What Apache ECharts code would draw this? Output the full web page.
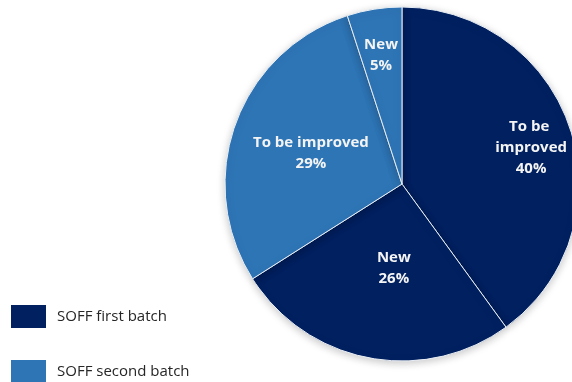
<!DOCTYPE html>
<html>
<head>
<meta charset="utf-8">
<style>
  html, body { margin: 0; padding: 0; background: #ffffff; }
  #chart { width: 572px; height: 382px; }
</style>
<script src="https://cdn.jsdelivr.net/npm/echarts@6/dist/echarts.min.js"></script>
</head>
<body>
<div id="chart"></div>
<script>
// Share of projects by status, split by SOFF batch (clockwise from 12 o'clock)
const statuses = ['To be improved', 'New', 'To be improved', 'New'];
const batches = ['SOFF first batch', 'SOFF first batch', 'SOFF second batch', 'SOFF second batch'];
const shares = [40, 26, 29, 5];
const batchNames = ['SOFF first batch', 'SOFF second batch'];

// Styling
const batchColors = { 'SOFF first batch': '#002060', 'SOFF second batch': '#2E75B6' };
const R = 177;
const labelRadius = [0.75, 0.47, 0.53, 0.74];   // label distance as a fraction of the radius
const labelNudge = [[0, 6], [8, 0], [0, 2], [0, 4]];
const labelWrap = [80, null, null, null];

const total = shares.reduce((a, b) => a + b, 0);
let acc = 0;
const pieData = shares.map((v, i) => {
  const mid = (acc + v / 2) / total * 2 * Math.PI;
  acc += v;
  const d = (labelRadius[i] - 0.5) * R;
  const label = {
    offset: [d * Math.sin(mid) + labelNudge[i][0], -d * Math.cos(mid) + labelNudge[i][1]]
  };
  if (labelWrap[i]) { label.width = labelWrap[i]; label.overflow = 'break'; }
  return {
    name: batches[i],
    value: v,
    status: statuses[i],
    itemStyle: { color: batchColors[batches[i]] },
    label: label
  };
});

const chart = echarts.init(document.getElementById('chart'), null, { renderer: 'canvas' });
chart.setOption({
  animation: false,
  legend: {
    data: batchNames,
    orient: 'vertical',
    left: 6,
    top: 300,
    height: 140,
    icon: 'rect',
    itemWidth: 35,
    itemHeight: 23,
    itemGap: 32,
    selectedMode: false,
    itemStyle: { borderWidth: 0, shadowBlur: 0 },
    textStyle: {
      fontFamily: 'Open Sans',
      fontSize: 15,
      color: '#262626',
      padding: [0, 0, 0, 6]
    }
  },
  series: [{
    type: 'pie',
    center: [402, 184],
    radius: R,
    startAngle: 90,
    clockwise: true,
    avoidLabelOverlap: false,
    itemStyle: {
      borderColor: '#e8eef5',
      borderWidth: 1,
      shadowBlur: 8,
      shadowColor: 'rgba(0,0,0,0.22)',
      shadowOffsetY: 2
    },
    label: {
      show: true,
      position: 'inside',
      color: '#f4f4f4',
      fontFamily: 'Open Sans',
      fontWeight: 'bold',
      fontSize: 15,
      lineHeight: 21,
      align: 'center',
      formatter: p => p.data.status + '\n' + p.value + '%'
    },
    labelLine: { show: false },
    emphasis: { disabled: true },
    data: pieData
  }]
});
</script>
</body>
</html>
